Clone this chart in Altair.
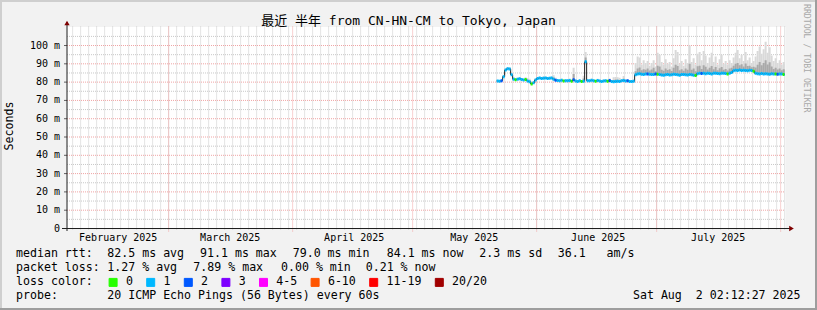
import altair as alt
import pandas as pd

# ---------------- data ----------------
START = "2025-05-22T00:00:00Z"   # first 12-hour step with data
STEP_HOURS = 12

median_ms = [
    80.6, 80.5, 80.8, 83.0, 86.6, 87.3, 87.2, 84.0, 81.6, 81.3,
    81.6, 81.9, 81.5, 81.2, 81.4, 80.6, 80.2, 79.0, 79.6, 81.2,
    82.0, 82.2, 82.0, 82.1, 82.3, 82.0, 82.1, 82.2, 81.6, 81.0,
    80.9, 80.8, 81.0, 80.6, 80.8, 80.7, 80.9, 80.5, 81.3, 80.6,
    80.4, 80.7, 80.3, 80.5, 91.1, 80.8, 80.7, 81.0, 80.8, 80.5,
    80.9, 80.6, 80.4, 80.6, 80.8, 80.5, 80.9, 80.4, 80.2, 80.3,
    80.5, 80.4, 80.7, 80.9, 80.6, 80.8, 80.4, 80.3, 80.5, 84.0,
    84.4, 84.6, 84.3, 84.2, 84.5, 84.4, 84.3, 84.1, 84.2, 84.5,
    84.3, 84.1, 83.9, 83.8, 84.0, 84.2, 83.9, 84.0, 84.3, 84.1,
    84.0, 83.8, 84.1, 84.2, 84.0, 83.9, 84.1, 84.0, 83.7, 83.6,
    84.6, 84.8, 84.7, 84.9, 84.6, 84.8, 84.7, 84.5, 84.8, 84.9,
    84.7, 84.6, 84.8, 84.9, 84.7, 84.5, 84.8, 85.2, 86.2, 86.5,
    86.4, 86.6, 86.3, 86.5, 86.4, 86.2, 86.5, 86.3, 86.0, 84.8,
    84.6, 84.5, 84.7, 84.4, 84.6, 84.5, 84.3, 84.6, 84.4, 84.5,
    84.3, 84.5, 84.4, 84.2, 84.1,
]

smoke_top = [
    81.2, 81.0, 81.5, 84.0, 87.5, 88.3, 88.0, 85.0, 82.6, 82.0,
    82.4, 82.6, 82.2, 81.9, 82.7, 82.3, 81.8, 80.2, 80.5, 82.0,
    82.8, 83.0, 82.7, 83.2, 83.0, 82.8, 83.0, 83.1, 83.8, 82.4,
    81.6, 81.5, 81.8, 81.3, 81.6, 81.5, 82.0, 81.2, 87.8, 81.4,
    81.2, 81.5, 81.0, 83.5, 96.5, 81.6, 81.4, 81.8, 81.5, 81.2,
    81.8, 81.3, 81.1, 81.4, 81.5, 81.3, 82.0, 81.2, 82.6, 82.8,
    82.7, 82.4, 81.6, 83.4, 81.3, 81.6, 81.2, 81.0, 81.4, 90.5,
    94.0, 93.5, 89.5, 92.0, 90.5, 91.5, 89.0, 90.5, 92.0, 88.5,
    96.0, 95.0, 91.0, 89.5, 92.5, 90.0, 91.0, 88.5, 93.0, 97.5,
    96.5, 90.0, 91.5, 89.0, 92.5, 90.5, 100.0, 91.0, 93.0, 89.5,
    95.5, 96.5, 92.0, 97.0, 94.5, 90.5, 93.5, 96.0, 91.0, 94.0,
    89.5, 92.5, 95.0, 90.0, 91.5, 89.5, 92.0, 90.5, 93.5, 96.0,
    97.5, 93.0, 95.0, 91.5, 96.5, 92.0, 93.5, 90.5, 91.5, 94.0,
    97.0, 99.5, 95.5, 98.0, 102.0, 96.0, 99.0, 94.5, 91.5, 93.0,
    90.5, 92.0, 89.5, 91.0, 90.0,
]

smoke_mid = [
    80.9, 80.8, 81.1, 83.4, 87.0, 87.7, 87.5, 84.4, 82.0, 81.6,
    81.9, 82.2, 81.8, 81.5, 81.9, 81.1, 80.8, 79.5, 80.0, 81.5,
    82.4, 82.5, 82.3, 82.5, 82.6, 82.3, 82.4, 82.5, 82.5, 81.6,
    81.2, 81.1, 81.3, 80.9, 81.1, 81.0, 81.3, 80.8, 84.5, 80.9,
    80.7, 81.0, 80.6, 82.0, 93.5, 81.1, 81.0, 81.3, 81.1, 80.8,
    81.2, 80.9, 80.7, 80.9, 81.1, 80.8, 81.3, 80.7, 81.2, 81.4,
    81.3, 81.0, 81.0, 81.8, 80.9, 81.1, 80.7, 80.6, 80.8, 86.0,
    87.5, 88.0, 86.5, 87.0, 86.8, 87.5, 86.3, 86.9, 87.8, 86.0,
    89.0, 88.5, 86.8, 86.2, 87.5, 86.6, 87.0, 86.1, 87.9, 89.5,
    88.8, 86.5, 87.0, 86.2, 87.4, 86.7, 90.0, 86.8, 87.5, 86.0,
    88.7, 89.0, 87.2, 89.2, 88.4, 86.9, 87.8, 88.8, 87.0, 88.2,
    86.5, 87.6, 88.3, 86.8, 87.2, 86.4, 87.5, 87.8, 89.0, 90.0,
    90.5, 89.2, 89.8, 88.6, 90.2, 88.8, 89.0, 88.1, 88.4, 88.0,
    89.5, 91.0, 89.2, 90.5, 92.0, 89.6, 90.8, 88.5, 87.2, 87.8,
    86.9, 87.4, 86.5, 87.0, 86.7,
]

# index into LOSS_LABELS for every step
loss_bin = [
    1, 1, 2, 1, 1, 1, 1, 1, 1, 0,
    1, 1, 1, 1, 0, 1, 1, 0, 1, 1,
    1, 1, 1, 1, 1, 1, 1, 1, 1, 2,
    1, 1, 1, 0, 1, 1, 1, 0, 2, 1,
    1, 1, 0, 1, 1, 1, 1, 1, 1, 0,
    1, 1, 1, 1, 1, 0, 2, 1, 1, 1,
    1, 1, 1, 1, 1, 2, 1, 1, 1, 1,
    1, 1, 1, 1, 1, 2, 1, 1, 1, 2,
    0, 1, 1, 1, 1, 1, 1, 1, 1, 1,
    1, 1, 1, 1, 1, 1, 1, 1, 1, 0,
    1, 1, 2, 1, 1, 1, 1, 1, 1, 1,
    1, 1, 1, 1, 1, 0, 1, 1, 1, 1,
    1, 1, 1, 1, 1, 1, 1, 1, 0, 1,
    1, 1, 1, 1, 1, 1, 1, 1, 1, 0,
    2, 1, 1, 0, 1,
]

LOSS_LABELS = ["0", "1", "2", "3", "4-5", "6-10", "11-19", "20/20"]
LOSS_COLORS = ["#26ff00", "#00b8ff", "#0059ff", "#7e00ff",
               "#ff00ff", "#ff5500", "#ff0000", "#a10000"]

Y_LABEL_TICKS = [0, 10, 20, 30, 40, 50, 60, 70, 80, 90, 100]
Y_MAJOR_GRID = [10, 20, 30, 40, 50, 60, 70, 80, 90, 100]
Y_MINOR_GRID = [5, 15, 25, 35, 45, 55, 65, 75, 85, 95, 105]
MONTH_STARTS = ["2025-03-01", "2025-04-01", "2025-05-01",
                "2025-06-01", "2025-07-01", "2025-08-01"]
MONTH_LABEL_AT = ["2025-02-16T06:30", "2025-03-16T06:30", "2025-04-16T06:30",
                  "2025-05-16T06:30", "2025-06-16T06:30", "2025-07-16T06:30"]
X_START = "2025-02-03T14:12"
X_END = "2025-08-02T02:12"

TITLE = "最近 半年 from CN-HN-CM to Tokyo, Japan"
MEDIAN_RTT = ["82.5 ms avg", "91.1 ms max", "79.0 ms min",
              "84.1 ms now", "2.3 ms sd", "36.1   am/s"]
PACKET_LOSS = ["1.27 % avg", "7.89 % max", "0.00 % min", "0.21 % now"]
PROBE = "20 ICMP Echo Pings (56 Bytes) every 60s"
STAMP = "Sat Aug  2 02:12:27 2025"

# ---------------- build tables ----------------
def ms(s):
    return int(pd.Timestamp(s, tz="UTC").value // 10**6)

t0 = pd.Timestamp(START)
n = len(median_ms)
t_start = [(t0 + pd.Timedelta(hours=STEP_HOURS * i)).strftime("%Y-%m-%dT%H:%M:%SZ") for i in range(n)]
t_end = [(t0 + pd.Timedelta(hours=STEP_HOURS * (i + 1))).strftime("%Y-%m-%dT%H:%M:%SZ") for i in range(n)]
df = pd.DataFrame({
    "t": t_start, "t2": t_end,
    "median": median_ms, "top": smoke_top, "mid": smoke_mid,
    "loss": [LOSS_LABELS[k] for k in loss_bin],
})

minor_days = pd.date_range("2025-02-05", X_END[:10], freq="2D", tz="UTC")
df_xminor = pd.DataFrame({"g": [int(d.value // 10**6) for d in minor_days]})
df_xmajor = pd.DataFrame({"g": [ms(s) for s in MONTH_STARTS]})
df_ymajor = pd.DataFrame({"v": Y_MAJOR_GRID})
df_yminor = pd.DataFrame({"v": Y_MINOR_GRID})
df_ylab = pd.DataFrame({"v": Y_LABEL_TICKS})
ONE = pd.DataFrame({"k": [0]})

# ---------------- layout ----------------
L, T, W, H = 67, 26.5, 718, 202
MONO = "DejaVu Sans Mono"
NB = "\u00a0"

xscale = alt.Scale(type="utc", domain=[ms(X_START), ms(X_END)])
yscale = alt.Scale(domain=[0, 110.4], nice=False, zero=False)
cscale = alt.Scale(domain=LOSS_LABELS, range=LOSS_COLORS)

x_label_axis = alt.Axis(
    values=[ms(s) for s in MONTH_LABEL_AT],
    labelExpr="utcFormat(datum.value, '%B %Y')",
    grid=False, ticks=False, domain=False, title=None,
    labelFont=MONO, labelFontSize=10, labelColor="black",
    labelPadding=4, labelFlush=False, labelOverlap=False,
)

GRID_GRAY = "#c8c8c8"
GRID_RED = "#f0a4a4"

def YQ(field):
    return alt.Y(field, scale=yscale, axis=None)

# x axis declared once (first layer using x); other layers leave it unspecified.
xminor = alt.Chart(df_xminor).mark_rule(color=GRID_GRAY, strokeDash=[1, 1], strokeWidth=1).encode(
    x=alt.X("g:T", scale=xscale, axis=x_label_axis), y=alt.value(0), y2=alt.value(H + 2))
yminor = alt.Chart(df_yminor).mark_rule(color=GRID_GRAY, strokeDash=[1, 1], strokeWidth=1).encode(
    y=YQ("v:Q"), x=alt.value(0), x2=alt.value(W))
xmajor = alt.Chart(df_xmajor).mark_rule(color=GRID_RED, strokeDash=[1, 1], strokeWidth=1).encode(
    x=alt.X("g:T", scale=xscale), y=alt.value(0), y2=alt.value(H + 3))
ymajor = alt.Chart(df_ymajor).mark_rule(color=GRID_RED, strokeDash=[1, 1], strokeWidth=1).encode(
    y=YQ("v:Q"), x=alt.value(0), x2=alt.value(W))

# y labels and ticks (drawn through the y scale)
ytick = alt.Chart(df_ylab).mark_rule(color="#606060", strokeWidth=1).encode(
    y=YQ("v:Q"), x=alt.value(-3), x2=alt.value(0))
ylabels = alt.Chart(df_ylab).transform_calculate(
    lab="datum.v == 0 ? '0" + NB + NB + "' : datum.v + '" + NB + "m'"
).mark_text(align="right", baseline="middle", font=MONO, fontSize=10, color="black").encode(
    y=YQ("v:Q"), x=alt.value(-7), text="lab:N")

X = alt.X("t:T", scale=xscale)
smoke_outer = alt.Chart(df).mark_rect(color="#d9d9d9", clip=True).encode(
    x=X, x2="t2:T", y=YQ("median:Q"), y2="top:Q")
smoke_inner = alt.Chart(df).mark_rect(color="#a9a9a9", clip=True).encode(
    x=X, x2="t2:T", y=YQ("median:Q"), y2="mid:Q")
step_line = alt.Chart(df).mark_line(color="#202020", strokeWidth=1, interpolate="step-after", clip=True).encode(
    x=X, y=YQ("median:Q"))
median_seg = alt.Chart(df).mark_rule(strokeWidth=3, clip=True).encode(
    x=X, x2="t2:T", y=YQ("median:Q"), color=alt.Color("loss:N", scale=cscale))

loss_legend = alt.Chart(pd.DataFrame({"loss": LOSS_LABELS})).transform_filter("false").mark_square(
    stroke="black", strokeWidth=1, opacity=1).encode(
    color=alt.Color("loss:N", scale=cscale, legend=alt.Legend(
        orient="none", legendX=107.3 - L, legendY=276.5 - T, direction="horizontal",
        title=None, symbolType="square", symbolSize=64, symbolStrokeColor="black",
        symbolStrokeWidth=1, symbolOpacity=1, labelFont=MONO, labelFontSize=11.6,
        labelColor="black", labelOffset=7, columnPadding=10.6, padding=0,
    )))

AXIS_COL = "#202020"
ARROW_COL = "#7f0000"
yline = alt.Chart(ONE).mark_rule(color=AXIS_COL, strokeWidth=1).encode(
    x=alt.value(0), y=alt.value(-4.5), y2=alt.value(H + 2.5))
xline = alt.Chart(ONE).mark_rule(color=AXIS_COL, strokeWidth=1).encode(
    y=alt.value(H), x=alt.value(-5), x2=alt.value(W + 5))
up_arrow = alt.Chart(ONE).mark_point(shape="triangle-up", filled=True, color=ARROW_COL, size=28, opacity=1).encode(
    x=alt.value(0), y=alt.value(-3.5))
right_arrow = alt.Chart(ONE).mark_point(shape="triangle-right", filled=True, color=ARROW_COL, size=28, opacity=1).encode(
    x=alt.value(W + 6.5), y=alt.value(H))

def frame(color, **enc):
    return alt.Chart(ONE).mark_rule(color=color, strokeWidth=2).encode(**{k: alt.value(v) for k, v in enc.items()})

frames = [
    frame("#cfcfcf", x=-L, x2=817 - L, y=-T + 1),
    frame("#cfcfcf", x=-L + 1, y=-T, y2=310 - T),
    frame("#9e9e9e", x=-L, x2=817 - L, y=310 - T - 1),
    frame("#9e9e9e", x=817 - L - 1, y=-T, y2=310 - T),
]

def txt(s, x, y, size=11.6, align="left", color="black", angle=0, font=MONO):
    return alt.Chart(ONE).mark_text(
        text=s.replace(" ", NB) if font == MONO else s, align=align, baseline="middle",
        fontSize=size, font=font, color=color, angle=angle,
    ).encode(x=alt.value(x), y=alt.value(y))

texts = [
    txt(TITLE, 408.5 - L, 21 - T, size=13, align="center", font=MONO + ", Noto Sans CJK SC"),
    txt("Seconds", 10 - L, 126 - T, angle=270, align="center"),
    txt("RRDTOOL / TOBI OETIKER", 806 - L, 4 - T, size=8.2, color="#a8a8a8", angle=90),
]
row_y = [254.3 - T, 268.3 - T, 282.3 - T, 296.0 - T]
texts.append(txt("median rtt:", 16 - L, row_y[0]))
for s, x in zip(MEDIAN_RTT, [107.3, 200.0, 292.7, 386.7, 479.3, 557.7]):
    texts.append(txt(s, x - L, row_y[0]))
texts.append(txt("packet loss:", 16 - L, row_y[1]))
for s, x in zip(PACKET_LOSS, [107.3, 193.3, 281.0, 365.7]):
    texts.append(txt(s, x - L, row_y[1]))
texts.append(txt("loss color:", 16 - L, row_y[2]))
texts.append(txt("probe:", 16 - L, row_y[3]))
texts.append(txt(PROBE, 107.3 - L, row_y[3]))
texts.append(txt(STAMP, 800.5 - L, row_y[3], align="right"))

chart = alt.layer(
    loss_legend, xminor, yminor, xmajor, ymajor,
    smoke_outer, smoke_inner, step_line, median_seg,
    ytick, ylabels, yline, xline, up_arrow, right_arrow, *frames, *texts,
).properties(
    width=W, height=H,
    padding={"left": L, "top": T, "right": 817 - L - W, "bottom": 310 - T - H},
    autosize=alt.AutoSizeParams(type="none"),
    background="#f2f2f2",
).configure_view(fill="white", stroke="transparent")

chart.save("out.html", embed_options={"renderer": "svg", "actions": False})
